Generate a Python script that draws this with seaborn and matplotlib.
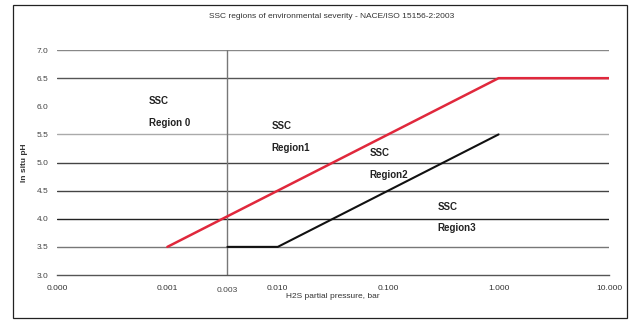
import matplotlib
matplotlib.use("Agg")
import matplotlib.pyplot as plt
import seaborn as sns
import pandas as pd
from matplotlib.patches import Rectangle

# Region boundary lines: H2S partial pressure (bar) vs in situ pH
red_x = [0.001, 1.0, 10.0]
red_y = [3.5, 6.5, 6.5]
black_x = [0.0035, 0.01, 1.0]
black_y = [3.5, 3.5, 5.5]

# Region 0 limit on the pressure axis
region0_limit = 0.0035

x_ticks = [0.0001, 0.001, 0.01, 0.1, 1.0, 10.0]
x_tick_labels = ["0.000", "0.001", "0.010", "0.100", "1.000", "10.000"]
y_ticks = [3.0, 3.5, 4.0, 4.5, 5.0, 5.5, 6.0, 6.5, 7.0]
y_tick_labels = ["3.0", "3.5", "4.0", "4.5", "5.0", "5.5", "6.0", "6.5", "7.0"]
grid_levels = [3.5, 4.0, 4.5, 5.0, 5.5, 6.5, 7.0]
grid_colors = ["#777777", "#222222", "#444444", "#444444", "#aaaaaa", "#555555", "#888888"]

region_names = ["SSC\n\nRegion 0", "SSC\n\nRegion1", "SSC\n\nRegion2", "SSC\n\nRegion3"]
region_x = [0.00068, 0.0088, 0.068, 0.28]
region_y = [5.90, 5.45, 4.97, 4.02]

sns.set_style("white")
plt.rcParams["font.family"] = ["Liberation Sans", "DejaVu Sans"]

fig = plt.figure(figsize=(6.38, 3.23), dpi=100)
ax = fig.add_axes([0.0893, 0.1486, 0.8652, 0.6964])

# outer frame around the whole chart
fig.patches.append(Rectangle((0.020, 0.015), 0.962, 0.968, transform=fig.transFigure,
                             fill=False, edgecolor="#222222", linewidth=0.9))

for lvl, col in zip(grid_levels, grid_colors):
    ax.axhline(lvl, color=col, linewidth=1.0, zorder=1)

ax.axvline(region0_limit, ymin=0, ymax=1, color="#777777", linewidth=1.0, zorder=1)

red_df = pd.DataFrame({"p": red_x, "ph": red_y})
black_df = pd.DataFrame({"p": black_x, "ph": black_y})
sns.lineplot(data=red_df, x="p", y="ph", color="#e0283c", linewidth=1.8, ax=ax,
             sort=False, zorder=3)
sns.lineplot(data=black_df, x="p", y="ph", color="#111111", linewidth=1.5, ax=ax,
             sort=False, zorder=3)

for name, tx, ty in zip(region_names, region_x, region_y):
    ax.text(tx, ty, name, fontsize=7, fontweight="bold", color="#222222",
            ha="left", va="center", linespacing=1.1, zorder=4)

ax.set_xscale("log")
ax.set_xlim(0.0001, 10.0)
ax.set_ylim(3.0, 7.0)
ax.set_xticks(x_ticks)
ax.set_xticklabels(x_tick_labels)
ax.minorticks_off()
ax.set_yticks(y_ticks)
ax.set_yticklabels(y_tick_labels)
ax.tick_params(axis="x", labelsize=6, colors="#333333", direction="inout", length=4,
               width=0.8, pad=5)
ax.tick_params(axis="y", labelsize=6, colors="#444444", direction="out", length=3,
               width=0.8, pad=3)
ax.text(region0_limit, -0.055, "0.003", transform=ax.get_xaxis_transform(),
        fontsize=6, color="#444444", ha="center", va="top")

for side in ["left", "right", "top"]:
    ax.spines[side].set_visible(False)
ax.spines["bottom"].set_color("#555555")
ax.spines["bottom"].set_linewidth(1.0)

ax.set_xlabel("H2S partial pressure, bar", fontsize=6, color="#333333", labelpad=1)
ax.set_ylabel("In situ pH", fontsize=6, fontweight="bold", color="#333333", labelpad=6)
fig.suptitle("SSC regions of environmental severity - NACE/ISO 15156-2:2003",
             fontsize=6, color="#333333", x=0.52, y=0.96)

fig.savefig("out.png", dpi=100)
